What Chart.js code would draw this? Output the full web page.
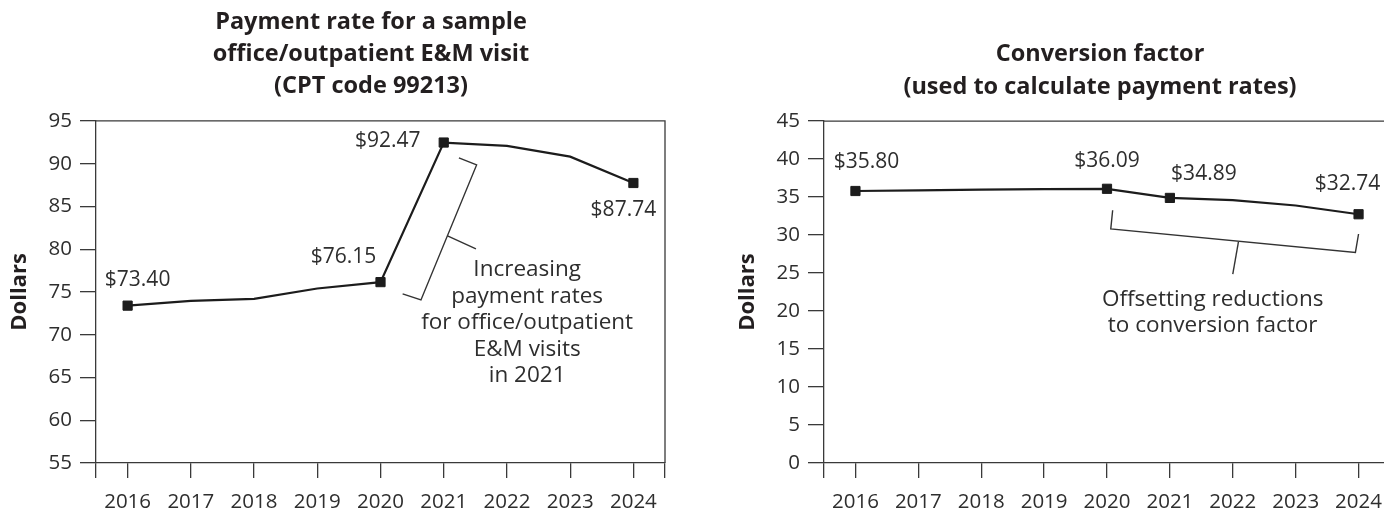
<!DOCTYPE html>
<html>
<head>
<meta charset="utf-8">
<script src="https://cdn.jsdelivr.net/npm/chart.js@4"></script>
<style>
html, body { margin: 0; padding: 0; background: #fff; overflow: hidden; width: 1384px; height: 514px; position: relative; }
canvas { position: absolute; top: 0; }
#c1 { left: 0; }
#c2 { left: 728px; }
</style>
</head>
<body>
<canvas id="c1" width="742" height="514"></canvas>
<canvas id="c2" width="744" height="514"></canvas>
<script>
// ---------------- data ----------------
const years = [2016, 2017, 2018, 2019, 2020, 2021, 2022, 2023, 2024];
const paymentRates = [73.40, 73.95, 74.20, 75.40, 76.15, 92.47, 92.07, 90.82, 87.74];
const conversionFactors = [35.80, 35.89, 35.99, 36.04, 36.09, 34.89, 34.61, 33.89, 32.74];
const labeledYears = [2016, 2020, 2021, 2024];

const paymentTitle = ['Payment rate for a sample', 'office/outpatient E&M visit', '(CPT code 99213)'];
const conversionTitle = ['Conversion factor', '(used to calculate payment rates)'];
const yAxisTitle = 'Dollars';
const paymentNote = ['Increasing', 'payment rates', 'for office/outpatient', 'E&M visits', 'in 2021'];
const conversionNote = ['Offsetting reductions', 'to conversion factor'];

const paymentYRange = [55, 95];
const conversionYRange = [0, 45];
const yStep = 5;

// ---------------- styles ----------------
const INK = '#1c1c1c';
const AXIS = '#3a3a3a';
const TEXT = '#2e2e2e';
const FONT = 'Open Sans';

const xTickValues = [years[0] - 0.5, ...years, years[years.length - 1] + 0.5];

const notesPlugin = {
  id: 'notes',
  afterDatasetsDraw(chart, args, opts) {
    const { ctx, chartArea: a, scales: { x, y } } = chart;
    ctx.save();
    // frame (top and right)
    ctx.strokeStyle = AXIS;
    ctx.lineWidth = 1.3;
    ctx.beginPath();
    ctx.moveTo(a.left, a.top);
    ctx.lineTo(a.right, a.top);
    ctx.lineTo(a.right, a.bottom);
    ctx.stroke();

    // value labels
    const data = chart.data.datasets[0].data;
    ctx.fillStyle = TEXT;
    ctx.font = '21px "' + FONT + '"';
    ctx.textAlign = 'center';
    ctx.textBaseline = 'middle';
    (opts.labels || []).forEach(l => {
      const p = data.find(d => d.x === l.year);
      if (!p) return;
      ctx.fillText('$' + p.y.toFixed(2), x.getPixelForValue(p.x) + l.dx, y.getPixelForValue(p.y) + l.dy);
    });

    // bracket + stem
    ctx.strokeStyle = '#333';
    ctx.lineWidth = 1.4;
    const poly = pts => {
      ctx.beginPath();
      pts.forEach((pt, i) => {
        const px = x.getPixelForValue(pt[0]);
        const py = y.getPixelForValue(pt[1]);
        if (i === 0) ctx.moveTo(px, py); else ctx.lineTo(px, py);
      });
      ctx.stroke();
    };
    if (opts.bracket) poly(opts.bracket);
    if (opts.stem) poly(opts.stem);

    // note text
    if (opts.note) {
      ctx.fillStyle = TEXT;
      ctx.font = '22.5px "' + FONT + '"';
      const nx = x.getPixelForValue(opts.note.x);
      const ny = y.getPixelForValue(opts.note.y);
      opts.note.lines.forEach((t, i) => ctx.fillText(t, nx, ny + i * opts.note.lineHeight));
    }
    ctx.restore();
  }
};

function makeChart(id, values, titleLines, titlePadTop, yRange, notes) {
  return new Chart(document.getElementById(id), {
    type: 'line',
    data: {
      datasets: [{
        data: years.map((yr, i) => ({ x: yr, y: values[i] })),
        borderColor: INK,
        borderWidth: 2.2,
        tension: 0,
        pointStyle: 'rect',
        pointRadius: c => labeledYears.includes(years[c.dataIndex]) ? 6.5 : 0,
        pointBackgroundColor: INK,
        pointBorderColor: INK,
        pointBorderWidth: 1,
        clip: false
      }]
    },
    options: {
      responsive: false,
      animation: false,
      events: [],
      layout: { padding: 0 },
      plugins: {
        legend: { display: false },
        tooltip: { enabled: false },
        title: {
          display: true,
          text: titleLines,
          color: '#231f20',
          font: { family: FONT, size: 23.5, weight: 'bold', lineHeight: 1.3745 },
          padding: { top: titlePadTop, bottom: 18 }
        },
        notes: notes
      },
      scales: {
        x: {
          type: 'linear',
          min: xTickValues[0],
          max: xTickValues[xTickValues.length - 1],
          afterBuildTicks: s => { s.ticks = xTickValues.map(v => ({ value: v })); },
          afterFit: s => { s.height = 51; },
          ticks: {
            autoSkip: false, maxRotation: 0, minRotation: 0, padding: 12,
            color: TEXT, font: { family: FONT, size: 20.5 },
            callback: v => Number.isInteger(v) ? String(v) : ''
          },
          grid: { drawOnChartArea: false, tickLength: 15, color: AXIS, lineWidth: 1.3 },
          border: { display: true, color: AXIS, width: 1.3 }
        },
        y: {
          min: yRange[0], max: yRange[1],
          afterFit: s => { s.width = 96; },
          ticks: { stepSize: yStep, padding: 8, color: TEXT, font: { family: FONT, size: 20.5 } },
          grid: { drawOnChartArea: false, tickLength: 16, color: AXIS, lineWidth: 1.3 },
          border: { display: true, color: AXIS, width: 1.3 },
          title: {
            display: true, text: yAxisTitle, color: '#231f20',
            font: { family: FONT, size: 22, weight: 'bold' },
            padding: { top: 7, bottom: 0 }
          }
        },
        spacer: {
          position: 'right',
          display: true,
          afterFit: s => { s.width = (id === 'c1') ? 77 : 82; },
          ticks: { display: false },
          grid: { display: false },
          border: { display: false }
        }
      }
    },
    plugins: [notesPlugin]
  });
}

makeChart('c1', paymentRates, paymentTitle, 6, paymentYRange, {
  labels: [
    { year: 2016, dx: 10, dy: -26 },
    { year: 2020, dx: -37, dy: -25 },
    { year: 2021, dx: -56, dy: -2 },
    { year: 2024, dx: -10, dy: 27 }
  ],
  bracket: [[2021.24, 90.67], [2021.52, 89.85], [2020.64, 74.06], [2020.35, 74.77]],
  stem: [[2021.06, 81.55], [2021.51, 80.03]],
  note: { x: 2022.32, y: 77.6, lines: paymentNote, lineHeight: 26.5 }
});

makeChart('c2', conversionFactors, conversionTitle, 38.5, conversionYRange, {
  labels: [
    { year: 2016, dx: 11, dy: -29 },
    { year: 2020, dx: 0, dy: -28 },
    { year: 2021, dx: 34, dy: -24 },
    { year: 2024, dx: -11, dy: -30 }
  ],
  bracket: [[2020.09, 33.26], [2020.06, 30.8], [2023.95, 27.71], [2024.0, 30.14]],
  stem: [[2022.09, 29.09], [2022.0, 24.86]],
  note: { x: 2021.68, y: 21.47, lines: conversionNote, lineHeight: 26 }
});
</script>
</body>
</html>
